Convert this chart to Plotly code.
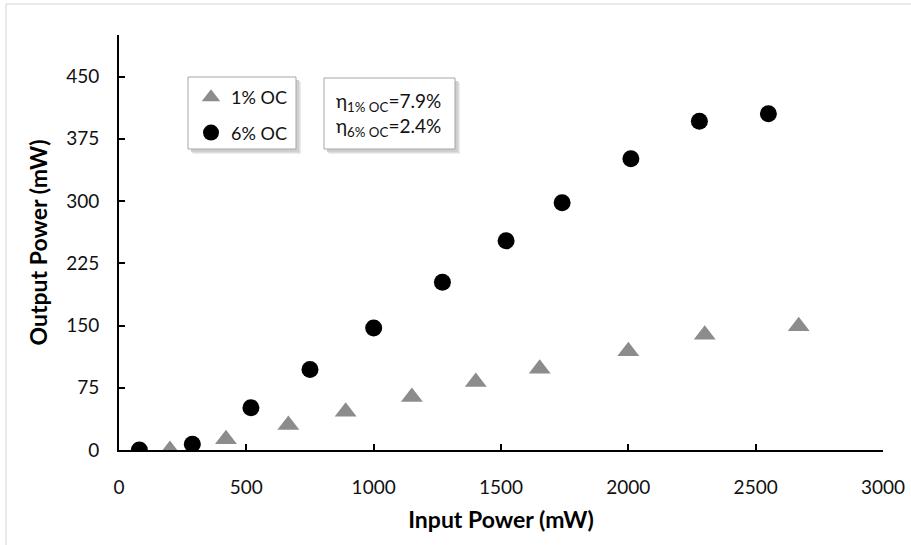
import plotly.graph_objects as go

# Input vs. output power for two output couplers
input_1pct = [200, 420, 665, 890, 1150, 1401, 1652, 2000, 2300, 2669]
output_1pct = [0, 13, 30, 46, 64, 82, 98, 119, 139, 149]

input_6pct = [80, 288, 518, 750, 1000, 1270, 1520, 1740, 2010, 2279, 2550]
output_6pct = [0, 7, 51, 97, 147, 202, 252, 298, 351, 396, 405]

x_ticks = [0, 500, 1000, 1500, 2000, 2500, 3000]
y_ticks = [0, 75, 150, 225, 300, 375, 450]

FONT = "Lato"
W, H = 911, 545
ML, MR, MT, MB = 119, 28, 35, 95
PW, PH = W - ML - MR, H - MT - MB


def px(x):
    return (x - ML) / PW


def py(y):
    return (H - MB - y) / PH


fig = go.Figure()
fig.add_trace(go.Scatter(
    x=input_1pct, y=output_1pct, mode="markers", name="1% OC",
    legendgroup="a",
    marker=dict(symbol="triangle-up", size=19, color="#8c8c8c", line=dict(width=0)),
))
fig.add_trace(go.Scatter(
    x=input_6pct, y=output_6pct, mode="markers", name="6% OC",
    legendgroup="b",
    marker=dict(symbol="circle", size=17, color="#000000", line=dict(width=0)),
))

shapes = []
# outer chart frame
shapes.append(dict(type="rect", xref="paper", yref="paper",
                   x0=px(6), x1=px(W + 10), y0=py(H + 10), y1=py(4),
                   line=dict(color="#d4d4d4", width=1), fillcolor="rgba(0,0,0,0)",
                   layer="below"))


def boxed(x0, x1, y0, y1):
    out = []
    # soft drop shadow
    for off, col in [(5, "#ececec"), (4, "#dedede"), (3, "#cfcfcf")]:
        out.append(dict(type="rect", xref="paper", yref="paper",
                        x0=px(x0 + off), x1=px(x1 + off), y0=py(y1 + off), y1=py(y0 + off),
                        line=dict(width=0), fillcolor=col, layer="below"))
    out.append(dict(type="rect", xref="paper", yref="paper",
                    x0=px(x0), x1=px(x1), y0=py(y1), y1=py(y0),
                    line=dict(color="#a6a6a6", width=1), fillcolor="white", layer="below"))
    return out


shapes += boxed(188, 296, 77, 149)
shapes += boxed(324, 455, 78, 149)

fig.add_annotation(
    xref="paper", yref="paper", x=px(334), y=py(115), xanchor="left", yanchor="middle",
    text="η<sub>1% OC</sub>=7.9%<br>η<sub>6% OC</sub>=2.4%",
    showarrow=False, align="left",
    font=dict(family=FONT, size=19, color="#111111"),
)

axis_common = dict(
    showline=True, linecolor="#000000", linewidth=2,
    ticks="inside", ticklen=6, tickwidth=2, tickcolor="#000000",
    showgrid=False, zeroline=False, automargin=False,
    tickfont=dict(family=FONT, size=19, color="#111111"),
)

fig.update_layout(
    width=W, height=H,
    margin=dict(l=ML, r=MR, t=MT, b=MB, autoexpand=False),
    paper_bgcolor="white", plot_bgcolor="white",
    shapes=shapes,
    showlegend=True,
    legend=dict(
        x=px(191), y=py(79), xanchor="left", yanchor="top",
        bgcolor="rgba(0,0,0,0)", borderwidth=0,
        font=dict(family=FONT, size=18, color="#111111"),
        traceorder="grouped", tracegroupgap=9,
    ),
    xaxis=dict(
        range=[0, 3000], tickvals=x_ticks, ticklabelstandoff=19,
        title=dict(text="<b>Input Power (mW)</b>", font=dict(family=FONT, size=23, color="#000"),
                   standoff=15),
        **axis_common,
    ),
    yaxis=dict(
        range=[0, 500], tickvals=y_ticks, ticklabelstandoff=14,
        title=dict(text="<b>Output Power (mW)</b>", font=dict(family=FONT, size=23, color="#000"),
                   standoff=12),
        **axis_common,
    ),
)

fig.write_html("out.html")
